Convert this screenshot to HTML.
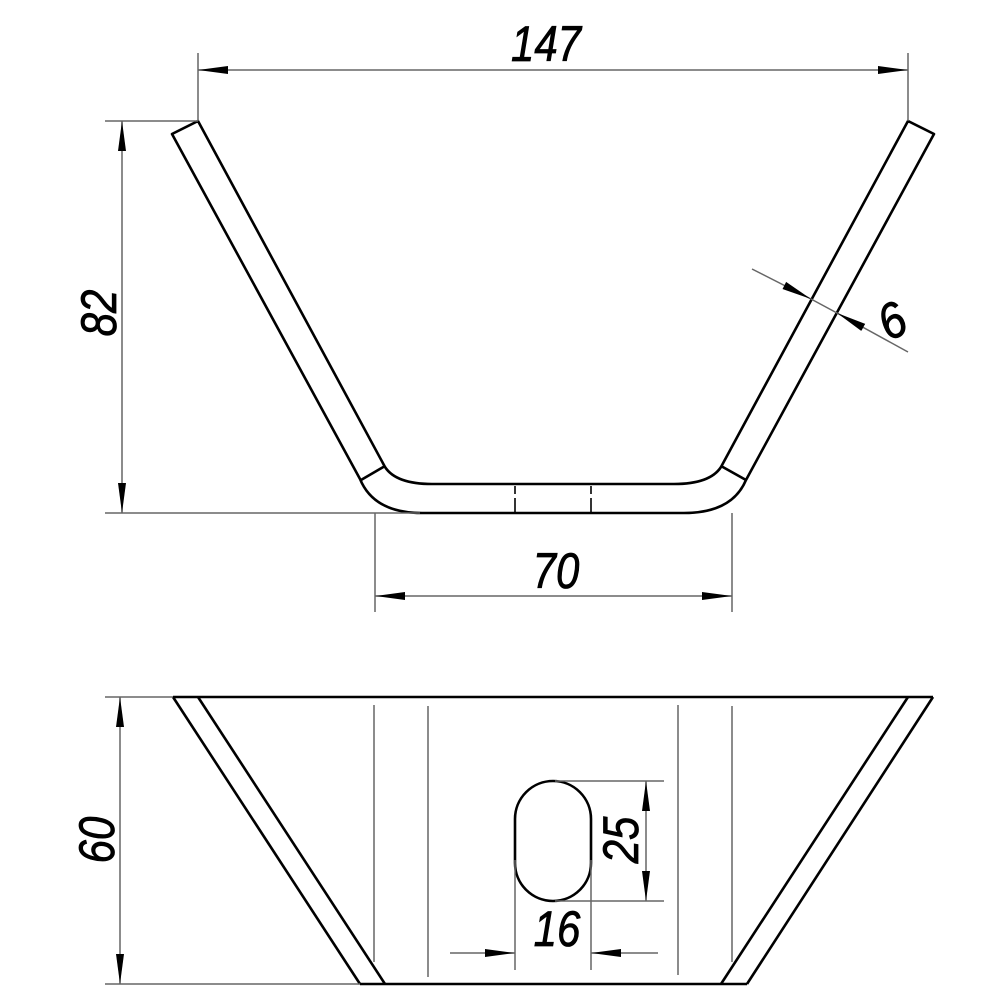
<!DOCTYPE html>
<html><head><style>html,body{margin:0;padding:0;background:#fff}svg{display:block}</style></head><body>
<svg width="1000" height="1000" viewBox="0 0 1000 1000" xmlns="http://www.w3.org/2000/svg">
<defs>
<marker id="a" viewBox="0 0 30 10" refX="30" refY="5" markerWidth="30" markerHeight="10" markerUnits="userSpaceOnUse" orient="auto-start-reverse"><path d="M0,1 L30,5 L0,9 Z" fill="#000"/></marker>
</defs>
<g fill="none" stroke="#000" stroke-width="2.6" stroke-linejoin="round">
<path d="M172,134 L198,121 L385,467 Q396,484 432,484 L674,484 Q710,484 721,467 L908,121 L934,134 L746,480 Q732,513 684,513 L422,513 Q374,513 360,479 Z"/>
<line x1="361" y1="480" x2="385" y2="466"/>
<line x1="721" y1="466" x2="746" y2="480"/>
<line x1="515" y1="486" x2="515" y2="494" stroke-width="1.6"/>
<line x1="515" y1="498" x2="515" y2="512" stroke-width="1.6"/>
<line x1="591" y1="486" x2="591" y2="494" stroke-width="1.6"/>
<line x1="591" y1="498" x2="591" y2="512" stroke-width="1.6"/>
<line x1="173" y1="697" x2="933" y2="697"/>
<line x1="173" y1="697" x2="360" y2="984"/>
<line x1="198" y1="697" x2="385" y2="984"/>
<line x1="908" y1="697" x2="721" y2="984"/>
<line x1="933" y1="697" x2="747" y2="984"/>
<line x1="360" y1="984" x2="747" y2="984"/>
<rect x="515" y="781" width="76" height="120" rx="38" ry="38"/>
</g>
<g fill="none" stroke="#666" stroke-width="1.5">
<line x1="374" y1="705" x2="374" y2="962"/>
<line x1="428" y1="706" x2="428" y2="977"/>
<line x1="678" y1="705" x2="678" y2="975"/>
<line x1="732" y1="706" x2="732" y2="962"/>
<line x1="105" y1="697" x2="173" y2="697"/>
<line x1="105" y1="984" x2="360" y2="984"/>
<line x1="198" y1="53" x2="198" y2="121"/>
<line x1="908" y1="53" x2="908" y2="121"/>
<line x1="198" y1="70" x2="908" y2="70" marker-start="url(#a)" marker-end="url(#a)"/>
<line x1="105" y1="121" x2="198" y2="121"/>
<line x1="105" y1="513" x2="420" y2="513"/>
<line x1="122" y1="121" x2="122" y2="513" marker-start="url(#a)" marker-end="url(#a)"/>
<line x1="375" y1="513" x2="375" y2="612"/>
<line x1="732" y1="513" x2="732" y2="612"/>
<line x1="375" y1="596" x2="732" y2="596" marker-start="url(#a)" marker-end="url(#a)"/>
<line x1="752" y1="269" x2="811" y2="299" marker-end="url(#a)"/>
<line x1="908" y1="352" x2="837" y2="313" marker-end="url(#a)"/>
<line x1="811" y1="299" x2="837" y2="313"/>
<line x1="120" y1="697" x2="120" y2="984" marker-start="url(#a)" marker-end="url(#a)"/>
<line x1="555" y1="781" x2="664" y2="781"/>
<line x1="555" y1="901" x2="664" y2="901"/>
<line x1="646" y1="781" x2="646" y2="901" marker-start="url(#a)" marker-end="url(#a)"/>
<line x1="515" y1="860" x2="515" y2="970"/>
<line x1="591" y1="860" x2="591" y2="970"/>
<line x1="450" y1="953" x2="515" y2="953" marker-end="url(#a)"/>
<line x1="658" y1="953" x2="591" y2="953" marker-end="url(#a)"/>
</g>
<g font-family="Liberation Sans, sans-serif" font-style="italic" font-size="50" fill="#000" stroke="#000" stroke-width="0.8" text-anchor="middle">
<text transform="translate(546,61) scale(0.84,1)">147</text>
<text transform="translate(556,588) scale(0.84,1)">70</text>
<text transform="translate(116,313) rotate(-90) scale(0.84,1)">82</text>
<text transform="translate(114,840) rotate(-90) scale(0.84,1)">60</text>
<text transform="translate(638,840) rotate(-90) scale(0.84,1)">25</text>
<text transform="translate(557,946) scale(0.84,1)">16</text>
<text transform="translate(900,336) rotate(-28) scale(0.9,1)">6</text>
</g>
</svg>
</body></html>
